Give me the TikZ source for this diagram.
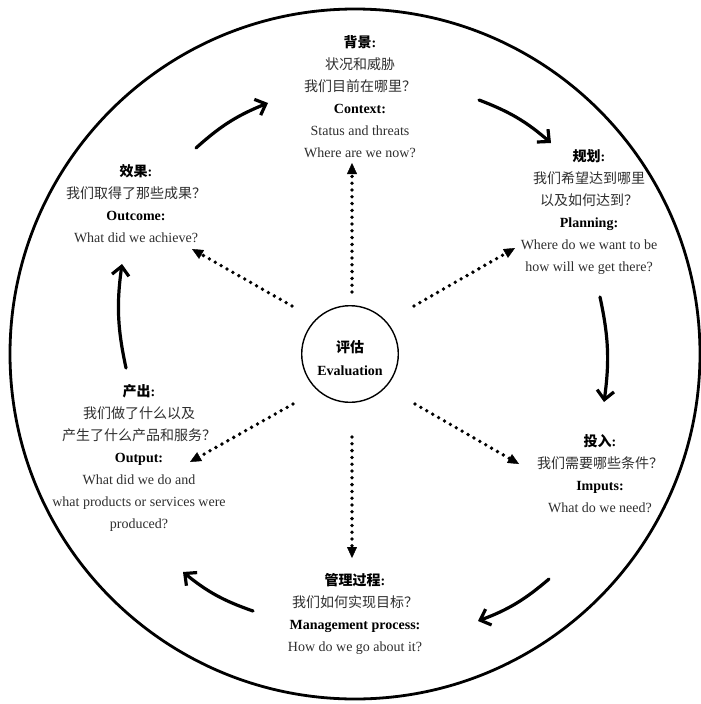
\documentclass[tikz,border=0pt]{standalone}
\usepackage{fontspec}
\setmainfont{Liberation Serif}
\newfontfamily\cjk{Noto Sans CJK SC}
\usetikzlibrary{arrows.meta}
\begin{document}
\begin{tikzpicture}[x=1pt,y=1pt,
  txt/.style={align=center, font=\fontsize{14}{22}\selectfont, text=black!82, inner sep=0pt},
  dotarrow/.style={line width=3.8pt, dash pattern=on 0pt off 6.8pt, line cap=round,
    -{Triangle[length=11pt,width=10pt,line width=0.4pt]}},
  flow/.style={line width=3.2pt, line cap=round,
    -{Straight Barb[length=9pt,width=17pt]}},
  ]
\useasboundingbox (0,0) rectangle (701,-704);
% outer circle
\draw[line width=2.8pt] (355,-354) circle[radius=345];
% centre
\node[draw, circle, line width=1.4pt, minimum size=96.6pt, inner sep=0pt] (eval) at (350,-354) {};
\node[align=center, inner sep=0pt, font=\fontsize{14}{23}\selectfont\bfseries] (evaltxt)
  at (350,-358.5) {{\cjk 评估}\\Evaluation};
% text blocks
\node[txt] (ctx) at (360,-96.5) {%
  {\color{black}\cjk\bfseries 背景\textrm{:}}\\
  {\cjk 状况和威胁}\\
  {\cjk 我们目前在哪里？}\\
  {\color{black}\bfseries Context:}\\
  Status and threats\\
  Where are we now?};
\node[txt] (plan) at (589,-212.5) {%
  {\color{black}\cjk\bfseries 规划\textrm{:}}\\
  {\cjk 我们希望达到哪里}\\
  {\cjk 以及如何达到？}\\
  {\color{black}\bfseries Planning:}\\
  Where do we want to be\\
  how will we get there?};
\node[txt] (outc) at (136,-203.5) {%
  {\color{black}\cjk\bfseries 效果\textrm{:}}\\
  {\cjk 我们取得了那些成果？}\\
  {\color{black}\bfseries Outcome:}\\
  What did we achieve?};
\node[txt] (outp) at (139,-457.5) {%
  {\color{black}\cjk\bfseries 产出\textrm{:}}\\
  {\cjk 我们做了什么以及}\\
  {\cjk 产生了什么产品和服务？}\\
  {\color{black}\bfseries Output:}\\
  What did we do and\\
  what products or services were\\
  produced?};
\node[txt] (inp) at (600,-474) {%
  {\color{black}\cjk\bfseries 投入\textrm{:}}\\
  {\cjk 我们需要哪些条件？}\\
  {\color{black}\bfseries Imputs:}\\
  What do we need?};
\node[txt] (mgmt) at (355,-614) {%
  {\color{black}\cjk\bfseries 管理过程\textrm{:}}\\
  {\cjk 我们如何实现目标？}\\
  {\color{black}\bfseries Management process:}\\
  How do we go about it?};
% dotted arrow ends
\coordinate (s1) at (352,-292); \coordinate (t1) at (352,-163);
\coordinate (s2) at (414,-306); \coordinate (t2) at (515,-248);
\coordinate (s3) at (415,-404); \coordinate (t3) at (519,-464);
\coordinate (s4) at (352,-437); \coordinate (t4) at (352,-558);
\coordinate (s5) at (293,-404); \coordinate (t5) at (190,-462);
\coordinate (s6) at (292,-306); \coordinate (t6) at (192,-249);
\foreach \i in {1,...,6} \draw[dotarrow] (s\i) -- (t\i);
% solid cycle arrows
\coordinate (a1) at (196,-148); \coordinate (b1) at (268,-103);
\coordinate (a2) at (479,-100); \coordinate (b2) at (551,-143);
\coordinate (a3) at (600,-297); \coordinate (b3) at (604,-402);
\coordinate (a4) at (549,-579); \coordinate (b4) at (478,-621);
\coordinate (a5) at (253,-611); \coordinate (b5) at (183,-572);
\coordinate (a6) at (126,-368); \coordinate (b6) at (122,-264);
\foreach \i in {1,...,6} \draw[flow] (a\i) to[bend left=10] (b\i);
\end{tikzpicture}
\end{document}
